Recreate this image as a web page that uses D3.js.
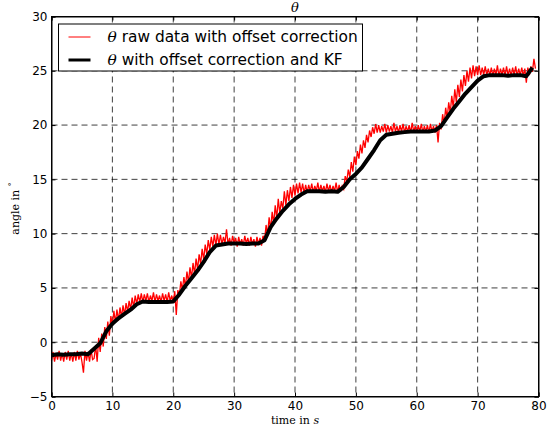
<!DOCTYPE html>
<html>
<head>
<meta charset="utf-8">
<script src="https://cdn.jsdelivr.net/npm/d3@7/dist/d3.min.js"></script>
<style>
  body { margin: 0; background: #fff; }
  text { font-family: "DejaVu Sans", sans-serif; }
</style>
</head>
<body>
<div id="svg"></div>
<script>
// raw theta, sampled every 0.25 s from t = 0
var rawStep = 0.25
var rawTheta = [
  -1.7,-0.9,-1.8,-1.0,-1.6,-0.8,-1.7,-1.0,-1.8,-0.9,-1.6,-0.8,-1.7,-1.0,-1.8,-0.9,-1.7,-0.8,-1.6,-1.0,-1.8,-2.8,-0.8,-1.7,-0.9,-1.8,-0.7,-1.6,
  -1.5,-0.3,-1.8,0.4,-0.9,0.8,-0.4,1.4,0.3,1.9,0.6,2.4,
  1.5,2.9,1.8,3.0,2.0,3.2,2.3,3.4,2.5,3.6,2.8,3.8,3.0,4.1,3.2,4.3,3.5,4.4,3.7,4.5,
  3.7,4.4,3.8,4.5,3.7,4.3,3.8,4.6,3.7,4.4,3.8,4.3,3.7,4.5,3.8,4.4,3.7,4.6,3.8,4.3,
  3.7,4.7,2.5,4.8,
  4.3,5.6,4.8,6.0,5.1,6.5,5.5,6.9,5.9,7.3,6.3,7.7,6.7,8.1,7.2,8.6,7.6,9.0,8.1,9.4,8.5,9.7,8.8,9.9,8.9,10.0,9.0,9.9,
  9.0,9.7,9.1,10.4,9.0,9.6,8.9,9.8,9.1,9.6,8.8,9.7,9.0,9.5,8.9,9.8,9.1,9.6,8.9,9.7,9.0,9.5,8.8,9.7,9.0,9.6,8.9,9.8,
  9.4,10.8,9.9,11.5,10.4,12.0,10.9,12.6,11.4,13.2,11.9,13.0,12.3,13.9,12.6,14.0,13.0,14.3,13.3,14.5,13.5,14.6,13.7,14.7,13.8,14.6,13.7,14.5,
  13.8,14.5,13.9,14.6,13.8,14.4,13.9,14.7,13.8,14.5,13.9,14.4,13.8,14.6,13.9,14.5,13.8,14.4,13.9,14.7,13.8,14.5,13.9,14.4,
  14.1,15.3,14.8,15.9,15.2,16.6,15.7,17.1,16.3,17.6,16.9,18.2,17.4,18.6,17.9,19.1,18.4,19.5,18.9,19.8,19.2,20.1,19.3,20.0,19.3,19.9,19.4,20.1,
  19.3,20.0,19.4,19.9,19.3,20.2,19.4,19.9,19.3,20.0,19.4,20.1,19.3,19.9,19.4,20.0,19.3,20.2,19.4,19.9,19.3,20.0,19.4,20.1,19.3,19.9,19.4,20.0,19.3,20.1,19.4,19.9,19.3,20.0,18.4,20.2,
  19.6,21.0,20.1,21.6,20.6,22.1,21.1,22.7,21.6,23.3,22.1,23.7,22.6,24.2,23.1,24.6,23.6,25.0,24.0,25.3,24.3,25.5,24.5,25.4,24.6,25.5,24.6,25.3,24.6,25.4,24.6,25.2,
  24.6,25.3,24.5,25.2,24.6,25.5,24.5,25.2,24.6,25.3,24.5,25.4,24.6,25.2,24.5,25.3,24.6,25.4,24.5,25.2,24.6,25.3,24.5,25.2,23.9,25.3,24.6,25.4,
  24.9,26.1,25.2
]

// Kalman filtered theta, one value per second from t = 0
var kfStep = 1
var kfTheta = [
  -1.2,-1.1,-1.15,-1.1,-1.1,-1.05,-1.1,-0.6,-0.1,1.0,
  1.7,2.2,2.6,3.0,3.5,3.75,3.7,3.7,3.7,3.7,
  3.75,4.4,5.2,5.9,6.6,7.4,8.3,8.9,9.0,9.1,
  9.1,9.1,9.05,9.1,9.1,9.4,10.6,11.4,12.1,12.7,
  13.2,13.6,13.9,13.9,13.9,13.85,13.9,13.85,14.3,15.0,
  15.5,16.1,16.9,17.7,18.6,19.1,19.2,19.3,19.35,19.4,
  19.4,19.4,19.4,19.5,19.9,20.7,21.5,22.2,22.9,23.5,
  24.1,24.5,24.6,24.6,24.6,24.55,24.6,24.6,24.5,25.3
]

var xTicks = [0, 10, 20, 30, 40, 50, 60, 70, 80]
var yTicks = [-5, 0, 5, 10, 15, 20, 25, 30]

function chart() {
    var margin = {top: 16.5, right: 20.5, bottom: 37.5, left: 51.5},
    width = 559 - margin.left - margin.right,
    height = 434 - margin.top - margin.bottom;

    var svg = d3.select("#svg")
    .append("svg")
        .attr("width", 559)
        .attr("height", 434)
    .append("g")
        .attr("transform", "translate(" + margin.left + "," + margin.top + ")");

    var x = d3.scaleLinear().domain([0, 80]).range([0, width]);
    var y = d3.scaleLinear().domain([-5, 30]).range([height, 0]);

    // dashed grid
    svg.append("g")
        .selectAll("line")
        .data(xTicks.slice(1, -1))
        .enter().append("line")
        .attr("x1", function (d) { return x(d); })
        .attr("x2", function (d) { return x(d); })
        .attr("y1", 0).attr("y2", height)
        .style("stroke", "#000").style("stroke-width", 1)
        .style("stroke-dasharray", "6,4").style("opacity", 0.75);
    svg.append("g")
        .selectAll("line")
        .data(yTicks.slice(1, -1))
        .enter().append("line")
        .attr("y1", function (d) { return y(d); })
        .attr("y2", function (d) { return y(d); })
        .attr("x1", 0).attr("x2", width)
        .style("stroke", "#000").style("stroke-width", 1)
        .style("stroke-dasharray", "6,4").style("opacity", 0.75);

    // raw data
    var line = d3.line()
        .x(function (d) { return x(d[0]); })
        .y(function (d) { return y(d[1]); });

    svg.append("path")
        .attr("d", line(rawTheta.map(function (v, i) { return [i * rawStep, v]; })))
        .style("fill", "none")
        .style("stroke", "#ff0000")
        .style("stroke-width", 1.3);

    // filtered
    svg.append("path")
        .attr("d", line(kfTheta.map(function (v, i) { return [i * kfStep, v]; })))
        .style("fill", "none")
        .style("stroke", "#000")
        .style("stroke-width", 4)
        .style("stroke-linejoin", "round");

    // axes, ticks inside on all sides
    var fmt = function (d) { return d < 0 ? "\u2212" + Math.abs(d) : d; };
    var ax = svg.append("g")
        .attr("transform", "translate(0," + height + ")")
        .call(d3.axisBottom(x).tickValues(xTicks).tickSize(-4).tickFormat(fmt));
    var ay = svg.append("g")
        .call(d3.axisLeft(y).tickValues(yTicks).tickSize(-4).tickFormat(fmt));
    svg.append("g")
        .call(d3.axisTop(x).tickValues(xTicks).tickSize(-4).tickFormat(""));
    svg.append("g")
        .attr("transform", "translate(" + width + ",0)")
        .call(d3.axisRight(y).tickValues(yTicks).tickSize(-4).tickFormat(""));
    svg.selectAll(".domain").style("stroke", "#000");
    svg.selectAll(".tick text")
        .style("font-family", "'DejaVu Sans', sans-serif")
        .style("font-size", "12px")
        .style("fill", "#000");
    ay.selectAll(".tick text").attr("x", -4);
    ax.selectAll(".tick text").attr("y", 5);

    // frame
    svg.append("rect")
        .attr("width", width).attr("height", height)
        .style("fill", "none").style("stroke", "#000").style("stroke-width", 1);

    // title
    svg.append("text")
        .attr("x", width / 2)
        .attr("y", -5)
        .attr("text-anchor", "middle")
        .style("font-family", "'DejaVu Serif', serif")
        .style("font-style", "italic")
        .style("font-size", "13px")
        .text("\u03b8");

    // x label
    var xl = svg.append("text")
        .attr("x", width / 2)
        .attr("y", height + 27)
        .attr("text-anchor", "middle")
        .style("font-family", "'DejaVu Serif', serif")
        .style("font-size", "11px");
    xl.append("tspan").text("time in ");
    xl.append("tspan").style("font-style", "italic").text("s");

    // y label
    var yl = svg.append("text")
        .attr("transform", "translate(" + (-33) + "," + (height / 2 + 2) + ") rotate(-90)")
        .attr("text-anchor", "middle")
        .style("font-family", "'DejaVu Serif', serif")
        .style("font-size", "11px");
    yl.append("tspan").text("angle in ");
    yl.append("tspan").attr("dy", -5).style("font-size", "8px").text("\u00b0");

    // legend
    var lg = svg.append("g").attr("transform", "translate(7,7.5)");
    lg.append("rect")
        .attr("width", 304).attr("height", 47)
        .style("fill", "#fff").style("stroke", "#000").style("stroke-width", 1);
    var items = [
        {label: " raw data with offset correction", color: "#ff0000", w: 1},
        {label: " with offset correction and KF", color: "#000", w: 3}
    ];
    items.forEach(function (d, i) {
        var cy = 13 + i * 23;
        lg.append("line")
            .attr("x1", 10).attr("x2", 32)
            .attr("y1", cy).attr("y2", cy)
            .style("stroke", d.color).style("stroke-width", d.w);
        var t = lg.append("text")
            .attr("x", 49).attr("y", cy + 5)
            .style("font-size", "15.4px");
        t.append("tspan")
            .style("font-family", "'DejaVu Serif', serif")
            .style("font-style", "italic")
            .text("\u03b8");
        t.append("tspan").text(d.label);
    });
}
chart();
</script>
</body>
</html>
